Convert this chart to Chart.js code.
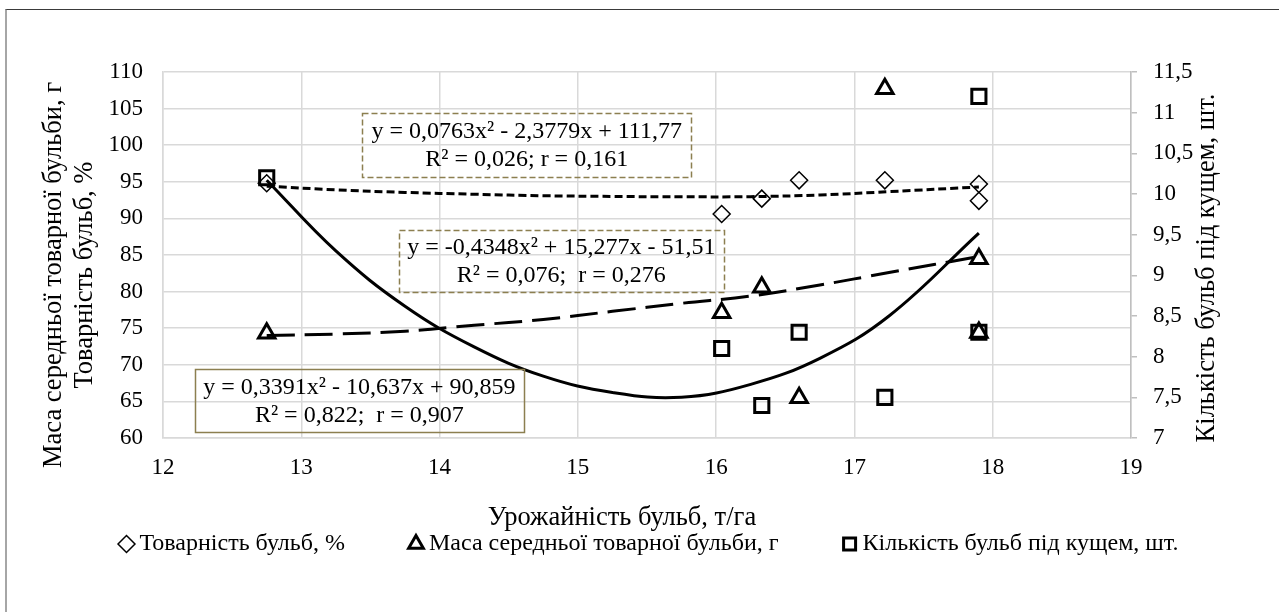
<!DOCTYPE html>
<html lang="uk">
<head>
<meta charset="utf-8">
<title>Урожайність бульб</title>
<script src="https://cdn.jsdelivr.net/npm/chart.js@4.4.1/dist/chart.umd.min.js"></script>
<style>
  html, body { margin: 0; padding: 0; background: #fff; overflow: hidden; }
  #frame { position: absolute; left: 5px; top: 9px; width: 1280px; height: 610px;
           border-left: 2px solid #a6a6a6; border-top: 1px solid #3a3a3a; }
  #box { position: absolute; left: 0; top: 0; width: 1279px; height: 612px; }
</style>
</head>
<body>
<div id="frame"></div>
<div id="box"><canvas id="yieldChart"></canvas></div>
<script>
// Урожайність бульб, т/га (спільна для всіх трьох рядів)
const yieldX = [12.75, 16.04, 16.33, 16.6, 17.22, 17.9, 17.9];
// Товарність бульб, %
const tovarnist = [94.8, 90.6, 92.7, 95.2, 95.2, 94.7, 92.4];
// Маса середньої товарної бульби, г
const masa = [74.3, 77.1, 80.6, 65.5, 107.7, 84.5, 74.4];
// Кількість бульб під кущем, шт. (права вісь)
const kilkist = [10.2, 8.1, 7.4, 8.3, 7.5, 11.2, 8.3];

// Лінії тренду
const trendX = [12.75, 13.25, 13.75, 14.25, 14.75, 15.25, 15.75, 16.25, 16.75, 17.25, 17.9];
const trendTovarnist = [94.4, 93.9, 93.55, 93.3, 93.1, 93.0, 92.95, 92.97, 93.2, 93.65, 94.3];
const trendMasa = [74.0, 74.2, 74.6, 75.4, 76.2, 77.3, 78.4, 79.4, 80.9, 82.6, 84.8];
const trendKilkist = [10.17, 9.3, 8.62, 8.12, 7.76, 7.56, 7.5, 7.66, 7.98, 8.5, 9.52];

// Підписи осей
const xTicks = [12, 13, 14, 15, 16, 17, 18, 19];
const leftTicks = [60, 65, 70, 75, 80, 85, 90, 95, 100, 105, 110];
const rightTicks = [7, 7.5, 8, 8.5, 9, 9.5, 10, 10.5, 11, 11.5];

const seriesNames = ['Товарність бульб, %', 'Маса середньої товарної бульби, г', 'Кількість бульб під кущем, шт.'];
const xTitle = 'Урожайність бульб, т/га';
const leftTitle = ['Маса середньої товарної бульби, г', 'Товарність бульб, %'];
const rightTitle = 'Кількість бульб під кущем, шт.';

const equations = [
  ['y = 0,0763x² - 2,3779x + 111,77', 'R² = 0,026; r = 0,161'],
  ['y = -0,4348x² + 15,277x - 51,51', 'R² = 0,076;  r = 0,276'],
  ['y = 0,3391x² - 10,637x + 90,859', 'R² = 0,822;  r = 0,907']
];

const FONT = 'Liberation Serif, Times New Roman, serif';
const GRID = '#d9d9d9';

const pts = (xs, ys) => xs.map((x, i) => ({ x: x, y: ys[i] }));
const comma = v => String(v).replace('.', ',');

// рамки з рівняннями, прив'язані до координат графіка
const eqBoxes = [
  { x: 14.63, y: 100.0, w: 329, h: 64, dash: [6, 3] },
  { x: 14.88, y: 84.2, w: 325, h: 62, dash: [6, 3] },
  { x: 13.42, y: 65.1, w: 329, h: 63, dash: [] }
];

const equationPlugin = {
  id: 'equationBoxes',
  afterDatasetsDraw(chart) {
    const ctx = chart.ctx;
    const sx = chart.scales.x, sy = chart.scales.y;
    ctx.save();
    eqBoxes.forEach((b, i) => {
      const cx = sx.getPixelForValue(b.x);
      const cy = sy.getPixelForValue(b.y);
      ctx.strokeStyle = '#8c7f50';
      ctx.lineWidth = 1.5;
      ctx.setLineDash(b.dash);
      ctx.strokeRect(Math.round(cx - b.w / 2) + 0.5, Math.round(cy - b.h / 2) + 0.5, b.w, b.h);
      ctx.setLineDash([]);
      ctx.fillStyle = '#000';
      ctx.font = '24px ' + FONT;
      ctx.textAlign = 'center';
      ctx.textBaseline = 'middle';
      ctx.fillText(equations[i][0], cx, cy - 13);
      ctx.fillText(equations[i][1], cx, cy + 15);
    });
    ctx.restore();
  }
};

// назви осей (права читається знизу вгору, як і ліва)
const axisTitlePlugin = {
  id: 'axisTitles',
  afterDraw(chart) {
    const ctx = chart.ctx;
    const area = chart.chartArea;
    const midY = (area.top + area.bottom) / 2 + 20;
    ctx.save();
    ctx.fillStyle = '#000';
    ctx.font = '26.5px ' + FONT;
    ctx.textAlign = 'center';
    ctx.textBaseline = 'middle';
    ctx.fillText(xTitle, (area.left + area.right) / 2 - 25, area.bottom + 80);

    ctx.save();
    ctx.translate(area.left - 109, midY);
    ctx.rotate(-Math.PI / 2);
    ctx.fillText(leftTitle[0], 0, 0);
    ctx.fillText(leftTitle[1], 0, 31);
    ctx.restore();

    ctx.save();
    ctx.translate(area.right + 76, midY - 7);
    ctx.rotate(-Math.PI / 2);
    ctx.fillText(rightTitle, 0, 0);
    ctx.restore();
    ctx.restore();
  }
};

const ctx = document.getElementById('yieldChart').getContext('2d');
const yieldChart = new Chart(ctx, {
  type: 'scatter',
  data: {
    datasets: [{
      label: seriesNames[0],
      data: pts(yieldX, tovarnist),
      yAxisID: 'y',
      pointStyle: 'rectRot',
      pointRadius: 8.5,
      pointBorderWidth: 1.5,
      borderColor: '#000',
      backgroundColor: 'rgba(0,0,0,0)'
    }, {
      label: seriesNames[1],
      data: pts(yieldX, masa),
      yAxisID: 'y',
      pointStyle: 'triangle',
      pointRadius: 9.5,
      pointBorderWidth: 3,
      borderColor: '#000',
      backgroundColor: 'rgba(0,0,0,0)'
    }, {
      label: seriesNames[2],
      data: pts(yieldX, kilkist),
      yAxisID: 'y1',
      pointStyle: 'rect',
      pointRadius: 10,
      pointBorderWidth: 3,
      borderColor: '#000',
      backgroundColor: 'rgba(0,0,0,0)'
    }, {
      label: 'trend1',
      data: pts(trendX, trendTovarnist),
      yAxisID: 'y',
      showLine: true,
      pointRadius: 0,
      borderColor: '#000',
      borderWidth: 3,
      borderDash: [8, 4],
      tension: 0.4
    }, {
      label: 'trend2',
      data: pts(trendX, trendMasa),
      yAxisID: 'y',
      showLine: true,
      pointRadius: 0,
      borderColor: '#000',
      borderWidth: 3,
      borderDash: [28, 10],
      tension: 0.4
    }, {
      label: 'trend3',
      data: pts(trendX, trendKilkist),
      yAxisID: 'y1',
      showLine: true,
      pointRadius: 0,
      borderColor: '#000',
      borderWidth: 3,
      tension: 0.4
    }]
  },
  options: {
    responsive: true,
    maintainAspectRatio: false,
    animation: false,
    layout: {
      padding: { left: 60, right: 35, top: 72, bottom: 46 }
    },
    plugins: {
      tooltip: { enabled: false },
      legend: {
        position: 'bottom',
        labels: {
          filter: item => item.datasetIndex < 3,
          usePointStyle: true,
          boxWidth: 2,
          boxHeight: 12,
          padding: 4,
          color: '#000',
          font: { family: FONT, size: 24 },
          generateLabels: chart => {
            const items = Chart.defaults.plugins.legend.labels.generateLabels(chart);
            items.forEach((it, i) => {
              if (i === 0 || i === 1) it.text = it.text + '\u00a0'.repeat(11);
              if (it.datasetIndex === 0) it.lineWidth = 1.5;
            });
            return items;
          }
        }
      }
    },
    scales: {
      x: {
        type: 'linear',
        min: 12,
        max: 19,
        afterBuildTicks: s => { s.ticks = xTicks.map(v => ({ value: v })); },
        afterFit: s => { s.height = 90; },
        grid: { color: GRID, lineWidth: 1.5, drawTicks: false },
        border: { color: GRID, width: 1.5 },
        ticks: { color: '#000', padding: 16, font: { family: FONT, size: 23 } }
      },
      y: {
        position: 'left',
        min: 60,
        max: 110,
        afterBuildTicks: s => { s.ticks = leftTicks.map(v => ({ value: v })); },
        afterFit: s => { s.width = 103; },
        grid: { color: GRID, lineWidth: 1.5, drawTicks: false },
        border: { color: GRID, width: 1.5 },
        ticks: { color: '#000', padding: 20, font: { family: FONT, size: 23 } }
      },
      y1: {
        position: 'right',
        min: 7,
        max: 11.5,
        afterBuildTicks: s => { s.ticks = rightTicks.map(v => ({ value: v })); },
        afterFit: s => { s.width = 113; },
        grid: { drawOnChartArea: false, color: '#bfbfbf', lineWidth: 1.5, tickLength: 6 },
        border: { color: '#bfbfbf', width: 1.5 },
        ticks: { color: '#000', padding: 16, font: { family: FONT, size: 23 }, callback: v => comma(v) }
      }
    }
  },
  plugins: [equationPlugin, axisTitlePlugin]
});
</script>
</body>
</html>
